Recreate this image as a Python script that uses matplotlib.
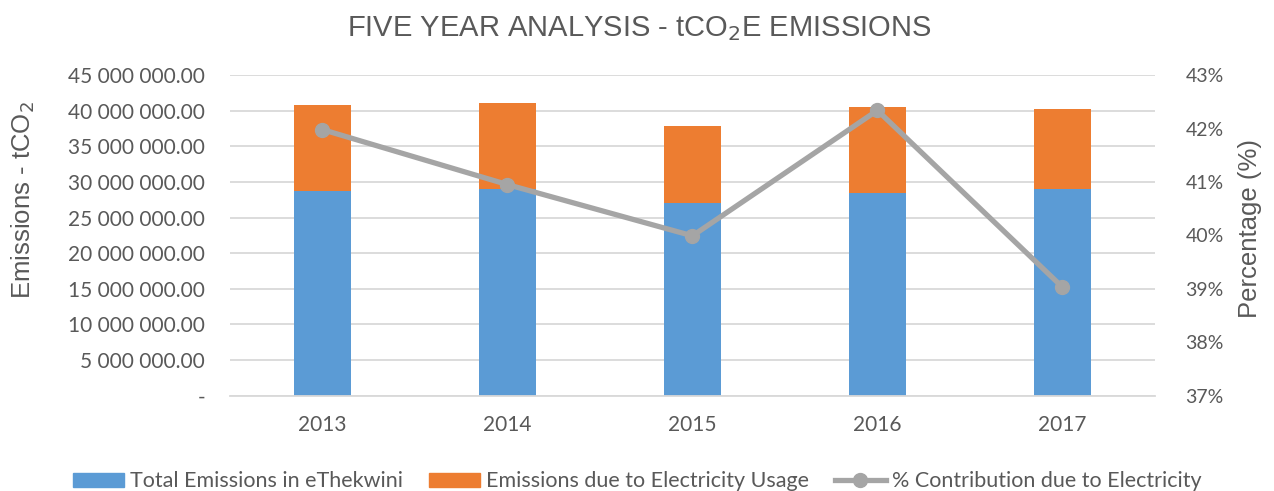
import matplotlib.pyplot as plt
from matplotlib.ticker import FuncFormatter, MultipleLocator
from matplotlib.lines import Line2D
from matplotlib.patches import Patch

years = ['2013', '2014', '2015', '2016', '2017']
total_emissions = [28.68e6, 29.04e6, 27.00e6, 28.40e6, 28.96e6]
electricity_emissions = [12.08e6, 12.00e6, 10.85e6, 12.08e6, 11.28e6]
pct_electricity = [41.98, 40.95, 39.99, 42.34, 39.03]

BLUE = '#5b9bd5'
ORANGE = '#ed7d31'
GREY = '#a5a5a5'
TXT = '#595959'

fig = plt.figure(figsize=(12.74, 4.91), dpi=100)
ax = fig.add_axes([0.1805, 0.1945, 0.726, 0.6525])
ax2 = ax.twinx()

x = list(range(len(years)))
ax.bar(x, total_emissions, width=0.31, color=BLUE, zorder=2)
ax.bar(x, electricity_emissions, width=0.31, bottom=total_emissions, color=ORANGE, zorder=2)

ax2.plot(x, pct_electricity, color=GREY, lw=3.8, marker='o', ms=10, zorder=3)

# left axis: emissions
ax.set_xlim(-0.5, 4.5)
ax.set_ylim(0, 45e6)
ax.yaxis.set_major_locator(MultipleLocator(5e6))
def emis_fmt(v, pos):
    if v == 0:
        return '-'
    return f'{v:,.2f}'.replace(',', ' ')
ax.yaxis.set_major_formatter(FuncFormatter(emis_fmt))
ax.grid(axis='y', color='#d9d9d9', lw=1.3, zorder=0)
ax.set_axisbelow(True)
ax.set_xticks(x)
ax.set_xticklabels(years)

# right axis: percentage
ax2.set_ylim(37, 43)
ax2.yaxis.set_major_locator(MultipleLocator(1))
ax2.yaxis.set_major_formatter(FuncFormatter(lambda v, p: f'{v:.0f}%'))

for a in (ax, ax2):
    for s in a.spines.values():
        s.set_visible(False)
    a.tick_params(length=0, colors=TXT)
    for lab in a.get_yticklabels() + a.get_xticklabels():
        lab.set_fontfamily('Lato')
ax.tick_params(labelsize=15)
ax2.tick_params(labelsize=14)
ax.tick_params(axis='y', pad=18)
ax.tick_params(axis='x', pad=14)
ax2.tick_params(axis='y', pad=22)
ax.spines['bottom'].set_visible(True)
ax.spines['bottom'].set_color('#d9d9d9')
ax.spines['bottom'].set_linewidth(1.3)

ax.set_ylabel('Emissions - tCO$_2$', fontsize=18.5, color=TXT, family='Liberation Sans')
ax.yaxis.set_label_coords(-0.209, 0.61)
ax2.set_ylabel('Percentage (%)', fontsize=18.5, color=TXT, family='Liberation Sans')
ax2.yaxis.set_label_coords(1.09, 0.52)

fig.suptitle('FIVE YEAR ANALYSIS - tCO$_2$E EMISSIONS', x=0.502, y=0.972, fontsize=21,
             color=TXT, family='Liberation Sans')

handles = [
    Patch(color=BLUE, label='Total Emissions in eThekwini'),
    Patch(color=ORANGE, label='Emissions due to Electricity Usage'),
    Line2D([], [], color=GREY, lw=3.8, marker='o', ms=10, label='% Contribution due to Electricity'),
]
leg = fig.legend(handles=handles, loc='lower center', bbox_to_anchor=(0.5, -0.04), ncol=3,
                 frameon=False, prop={'family': 'Lato', 'size': 15.5}, handlelength=2.4,
                 handleheight=0.6, columnspacing=1.2, handletextpad=0.25)
for t in leg.get_texts():
    t.set_color(TXT)

fig.savefig('out.png', dpi=100)
